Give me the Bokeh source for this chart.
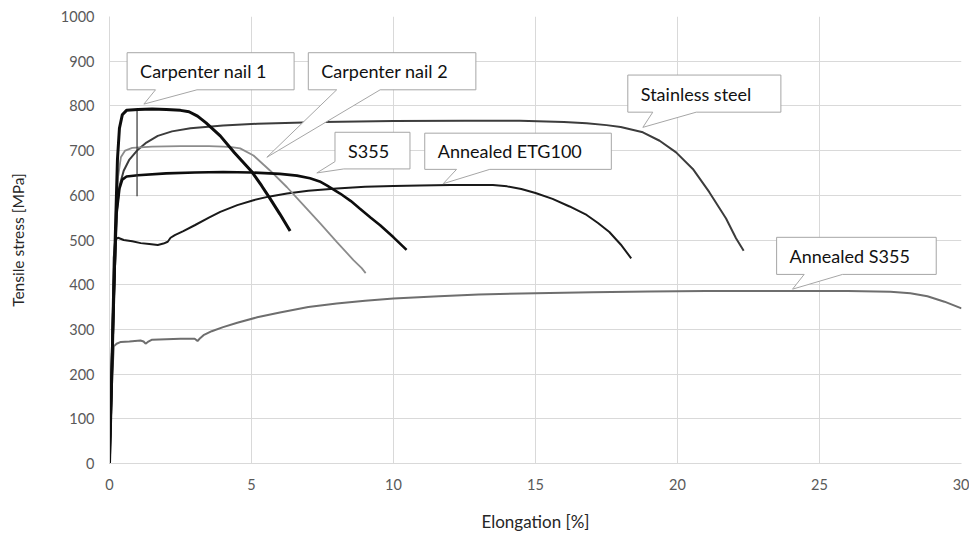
from bokeh.plotting import figure
from bokeh.models import Range1d, FixedTicker, ColumnDataSource
from bokeh.core.properties import value
from bokeh.embed import file_html
from bokeh.resources import INLINE

# ---- data ----
nail1_x = [0, 0.1, 0.2, 0.28, 0.35, 0.45, 0.6, 1.0, 1.5, 2.0, 2.5, 2.8, 3.1, 3.4, 3.9, 4.4, 5.02, 5.35, 5.66, 6.0, 6.36]
nail1_y = [0, 250, 500, 680, 750, 780, 790, 792, 793, 792, 790, 787, 777, 762, 733, 695, 652, 622, 592, 558, 520]

nail1_ext_x = [0.97, 0.97]
nail1_ext_y = [790, 598]

nail2_x = [0, 0.15, 0.22, 0.3, 0.4, 0.55, 0.8, 1.5, 2.5, 3.5, 4.0, 4.3, 4.6, 5.07, 5.66, 6.25, 6.83, 7.42, 8.0, 8.59, 8.88, 9.02]
nail2_y = [0, 400, 560, 640, 685, 700, 706, 709, 710, 710, 709, 708, 705, 689, 655, 618, 578, 537, 496, 455, 437, 426]

stainless_x = [0, 0.15, 0.25, 0.35, 0.5, 0.7, 1.0, 1.3, 1.7, 2.2, 2.85, 4, 5.2, 7.5, 10, 12.5, 14.45, 16.0, 16.8, 17.5,
               18.0, 18.78, 19.37, 19.95, 20.54, 21.12, 21.71, 22.06, 22.33]
stainless_y = [0, 350, 560, 620, 655, 680, 702, 718, 733, 743, 750, 756, 760, 764, 766, 767, 767, 764, 761, 757,
               753, 741, 722, 696, 659, 607, 548, 504, 476]

s355_x = [0, 0.15, 0.25, 0.35, 0.45, 0.6, 1, 2, 3, 4, 5, 6, 6.6, 7.06, 7.4, 7.65, 8.12, 8.5, 8.82, 9.2, 9.53, 10.0, 10.46]
s355_y = [0, 380, 560, 615, 635, 642, 645, 649, 651, 652, 651, 648, 644, 638, 631, 622, 604, 587, 570, 550, 533, 506, 478]

etg_x = [0, 0.1, 0.15, 0.2, 0.3, 0.5, 0.8, 1.1, 1.4, 1.7, 1.9, 2.05, 2.15, 2.3, 2.6, 3.0, 3.5, 3.9, 4.5, 5.07, 5.6, 6.25, 7.0,
         8.0, 9.0, 10.0, 10.93, 12.0, 13.0, 13.5, 14.0, 14.5, 15.0, 15.6, 16.2, 16.8, 17.2, 17.6, 18.0, 18.37]
etg_y = [0, 300, 460, 500, 505, 500, 497, 493, 491, 489, 492, 496, 505, 511, 520, 533, 550, 563, 578, 589, 597, 604, 610,
         615, 619, 621, 622, 623, 623, 623, 620, 614, 605, 592, 575, 556, 538, 518, 490, 459]

ann_s355_x = [0, 0.1, 0.15, 0.25, 0.4, 0.7, 1.09, 1.2, 1.27, 1.35, 1.5, 2.0, 2.5, 3.0, 3.1, 3.2, 3.31, 3.6, 4.0, 4.5, 5.2, 6, 7, 8, 9, 10,
              11.6, 13, 15, 17, 19, 21, 24, 26, 27.5, 28.2, 28.8, 29.4, 30]
ann_s355_y = [0, 200, 262, 268, 272, 273, 275, 273, 268, 272, 277, 278, 279, 279, 274, 281, 287, 296, 305, 315, 327, 338, 350, 358, 364, 369,
              374, 378, 381, 383, 385, 386, 386, 386, 384, 381, 374, 362, 347]

x_ticks = [0, 5, 10, 15, 20, 25, 30]
y_ticks = [0, 100, 200, 300, 400, 500, 600, 700, 800, 900, 1000]

labels = ["Carpenter nail 1", "Carpenter nail 2", "S355", "Annealed ETG100", "Stainless steel", "Annealed S355"]

# callout annotations: box (x0, x1, y0, y1) and pointer outline
box_x0 = [0.62, 7.0, 7.94, 11.1, 18.25, 23.49]
box_x1 = [6.50, 12.9, 10.58, 17.67, 23.64, 29.11]
box_y0 = [836, 836, 659, 658, 786, 423]
box_y1 = [919, 919, 741, 739, 869, 506]
tip_x = [1.21, 5.54, 7.3, 11.75, 18.78, 24.05]
tip_y = [804, 685, 650, 626, 752, 390]
base_a = [1.62, 8.0, None, 12.22, 19.13, 24.46]
base_b = [3.08, 9.53, 8.25, 13.39, 20.66, 25.81]

FONT = "Lato"

p = figure(width=969, height=534, output_backend="svg", toolbar_location=None,
           x_range=Range1d(0, 30), y_range=Range1d(0, 1000),
           min_border_left=109, min_border_right=8, min_border_top=16, min_border_bottom=70)
p.outline_line_color = None
p.background_fill_color = "white"
p.border_fill_color = "white"

p.xaxis.ticker = FixedTicker(ticks=x_ticks)
p.yaxis.ticker = FixedTicker(ticks=y_ticks)
for ax in (p.xaxis[0], p.yaxis[0]):
    ax.axis_line_color = "#d9d9d9"
    ax.major_tick_line_color = None
    ax.minor_tick_line_color = None
    ax.major_label_text_font = FONT
    ax.major_label_text_font_size = "14.5px"
    ax.major_label_text_color = "#595959"
    ax.axis_label_text_font = FONT
    ax.axis_label_text_font_style = "normal"
    ax.axis_label_text_color = "#262626"
p.xaxis.axis_label = "Elongation [%]"
p.yaxis.axis_label = "Tensile stress [MPa]"
p.xaxis.axis_label_text_font_size = "17px"
p.yaxis.axis_label_text_font_size = "15.5px"
p.xaxis.major_label_standoff = 9
p.yaxis.major_label_standoff = 9
p.xaxis.axis_label_standoff = 18
p.yaxis.axis_label_standoff = 31

p.xgrid.grid_line_color = "#d9d9d9"
p.ygrid.grid_line_color = "#d9d9d9"
p.xgrid.grid_line_width = 1
p.ygrid.grid_line_width = 1

# curves
p.line(ann_s355_x, ann_s355_y, line_color="#6e6e6e", line_width=2)
p.line(etg_x, etg_y, line_color="#1a1a1a", line_width=2)
p.line(stainless_x, stainless_y, line_color="#3c3c3c", line_width=2)
p.line(nail2_x, nail2_y, line_color="#8c8c8c", line_width=1.8)
p.line(s355_x, s355_y, line_color="#0d0d0d", line_width=2.6)
p.line(nail1_ext_x, nail1_ext_y, line_color="#333333", line_width=1.2)
p.line(nail1_x, nail1_y, line_color="#0d0d0d", line_width=3)

# callouts
xs, ys = [], []
for i in range(len(labels)):
    x0, x1, y0, y1 = box_x0[i], box_x1[i], box_y0[i], box_y1[i]
    if base_a[i] is None:
        px = [x0, x1, x1, base_b[i], tip_x[i], x0]
        py = [y1, y1, y0, y0, tip_y[i], y0 + 0.2 * (y1 - y0)]
    else:
        px = [x0, x1, x1, base_b[i], tip_x[i], base_a[i], x0]
        py = [y1, y1, y0, y0, tip_y[i], y0, y0]
    xs.append(px)
    ys.append(py)
p.patches(xs, ys, fill_color="white", line_color="#a6a6a6", line_width=1)

src = ColumnDataSource(dict(x=box_x0, y=[(a + b) / 2 for a, b in zip(box_y0, box_y1)], t=labels))
p.text(x="x", y="y", text="t", source=src, x_offset=13, text_baseline="middle", text_align="left",
       text_font=value(FONT), text_font_size="18px", text_color="#111111")

open("out.html", "w").write(file_html(p, INLINE))
